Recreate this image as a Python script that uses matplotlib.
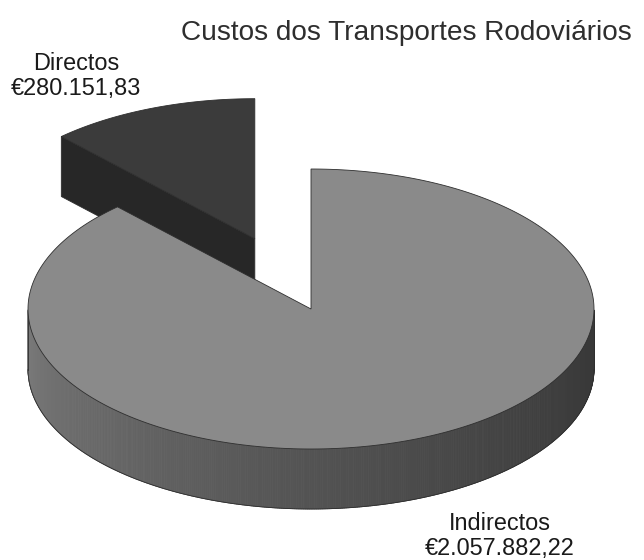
import numpy as np
import matplotlib

matplotlib.use("Agg")
import matplotlib.pyplot as plt  # noqa: E402
from matplotlib.patches import Polygon  # noqa: E402

# data
labels = ["Directos", "Indirectos"]
values = [280151.83, 2057882.22]
title = "Custos dos Transportes Rodoviários"

# look of each slice: top grey level and how far it is pulled out
top_grey = [0.23, 0.54]
explode = [0.54, 0.0]

plt.rcParams["font.family"] = ["Liberation Sans", "DejaVu Sans"]

W, H = 644, 560
fig = plt.figure(figsize=(W / 100, H / 100), dpi=100)
ax = fig.add_axes([0, 0, 1, 1])
ax.set_xlim(0, W)
ax.set_ylim(H, 0)
ax.axis("off")

# pie geometry in pixel units (tilted disc)
cx, cy = 311, 309
rx, ry = 283, 140
depth = 60
start = 90.0
edge = "#2e2e2e"


def euro(v):
    s = f"{v:,.2f}".replace(",", " ").replace(".", ",").replace(" ", ".")
    return "€" + s


def rim(theta, ox, oy, dz=0.0):
    t = np.radians(theta)
    return np.column_stack([ox + rx * np.cos(t), oy - ry * np.sin(t) + dz])


def grey(level):
    level = float(np.clip(level, 0, 1))
    return (level, level, level)


total = sum(values)
spans = [360.0 * v / total for v in values]
bounds = np.concatenate([[start], start + np.cumsum(spans)])

slices = []
for i, lab in enumerate(labels):
    a0, a1 = bounds[i], bounds[i + 1]
    mid = np.radians((a0 + a1) / 2)
    ox = cx + explode[i] * rx * np.cos(mid)
    oy = cy - explode[i] * ry * np.sin(mid)
    slices.append((i, a0, a1, ox, oy))

# back slices first
slices.sort(key=lambda s: s[4])

for i, a0, a1, ox, oy in slices:
    g = top_grey[i]

    # radial faces that turn towards the viewer
    for a, visible in ((a0, np.cos(np.radians(a0)) > 1e-6),
                       (a1, np.cos(np.radians(a1)) < -1e-6)):
        if not visible:
            continue
        p = rim(np.array([a]), ox, oy)[0]
        quad = [(ox, oy), tuple(p), (p[0], p[1] + depth), (ox, oy + depth)]
        ax.add_patch(Polygon(quad, closed=True, facecolor=grey(g * 0.67),
                             edgecolor=edge, lw=0.6, zorder=2))

    # front wall, shaded from left (lit) to right (dark)
    ths = np.linspace(a0, a1, 720)
    front = np.sin(np.radians(ths)) < 0
    if front.any():
        t = ths[front]
        for k in range(len(t) - 1):
            seg = rim(np.array([t[k], t[k + 1]]), ox, oy)
            quad = np.vstack([seg, seg[::-1] + [0, depth]])
            th = (t[k] % 360)
            f = 0.4 + 0.5 * ((360 - th) / 180) ** 1.3
            c = grey(g * f)
            ax.add_patch(Polygon(quad, closed=True, facecolor=c,
                                 edgecolor=c, lw=0.6, zorder=2))
        lo = rim(t, ox, oy, depth)
        ax.plot(lo[:, 0], lo[:, 1], color=edge, lw=0.6, zorder=3)
        for end in (t[0], t[-1]):
            p = rim(np.array([end]), ox, oy)[0]
            ax.plot([p[0], p[0]], [p[1], p[1] + depth], color=edge,
                    lw=0.6, zorder=3)

    # top face
    arc = rim(np.linspace(a0, a1, 400), ox, oy)
    top = np.vstack([[ox, oy], arc])
    ax.add_patch(Polygon(top, closed=True, facecolor=grey(g),
                         edgecolor=edge, lw=0.6, zorder=4))

# labels
txt = dict(ha="center", va="center", fontsize=16.9, color="#1a1a1a")
fig.text(76 / W, 1 - 64 / H, labels[0], **txt)
fig.text(76 / W, 1 - 88 / H, euro(values[0]), **txt)
fig.text(500 / W, 1 - 524 / H, labels[1], **txt)
fig.text(500 / W, 1 - 548 / H, euro(values[1]), **txt)

fig.text(406 / W, 1 - 33 / H, title, ha="center", va="center",
         fontsize=20.2, color="#2e2e2e")

fig.savefig("out.png", dpi=100, facecolor="white")
